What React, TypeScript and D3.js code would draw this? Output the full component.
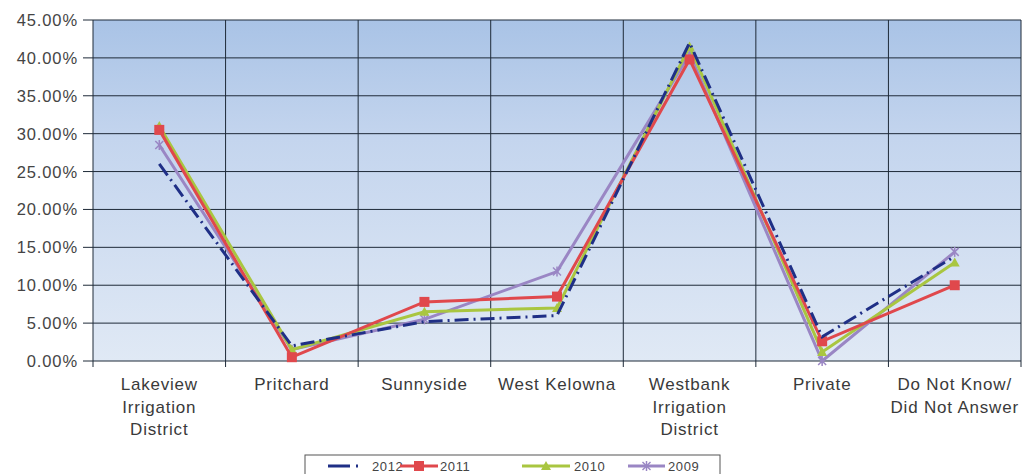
import React from "react";
import * as d3 from "d3";

const categories = [
  ["Lakeview", "Irrigation", "District"],
  ["Pritchard"],
  ["Sunnyside"],
  ["West Kelowna"],
  ["Westbank", "Irrigation", "District"],
  ["Private"],
  ["Do Not Know/", "Did Not Answer"],
];
const s2012 = [26.0, 2.0, 5.2, 6.0, 42.0, 3.2, 13.8];
const s2011 = [30.5, 0.5, 7.8, 8.5, 39.8, 2.6, 10.0];
const s2010 = [31.0, 1.5, 6.5, 7.0, 41.5, 1.2, 13.0];
const s2009 = [28.5, 1.5, 5.5, 11.8, 40.5, 0.0, 14.4];
const yTicks = [0, 5, 10, 15, 20, 25, 30, 35, 40, 45];
const seriesNames = ["2012", "2011", "2010", "2009"];

const W = 1023, H = 474;
const left = 93, right = 1021, top = 20, bottom = 361;

export default function App() {
  const x = d3.scaleBand<number>().domain(d3.range(categories.length)).range([left, right]);
  const y = d3.scaleLinear().domain([0, 45]).range([bottom, top]);
  const line = d3.line<number>().x((_, i) => x(i)! + x.bandwidth() / 2).y((d) => y(d));
  const font = "Arial, 'Liberation Sans', sans-serif";
  const series = [
    { name: "2012", data: s2012, color: "#1F2F86", dash: "14,5,2,5", marker: "none" },
    { name: "2011", data: s2011, color: "#E0484C", dash: "", marker: "square" },
    { name: "2010", data: s2010, color: "#A9C640", dash: "", marker: "tri" },
    { name: "2009", data: s2009, color: "#9A86C4", dash: "", marker: "star" },
  ];
  const drawOrder = [3, 2, 1, 0];
  const cx = (i: number) => x(i)! + x.bandwidth() / 2;
  const marker = (m: string, px: number, py: number, color: string, key: string) => {
    if (m === "square") return <rect key={key} x={px - 5} y={py - 5} width={10} height={10} fill={color} />;
    if (m === "tri") return <path key={key} d={`M${px},${py - 5}L${px + 5},${py + 4}L${px - 5},${py + 4}Z`} fill={color} />;
    if (m === "star")
      return (
        <g key={key} stroke={color} strokeWidth={1.5}>
          <line x1={px - 4} y1={py - 4} x2={px + 4} y2={py + 4} />
          <line x1={px - 4} y1={py + 4} x2={px + 4} y2={py - 4} />
          <line x1={px} y1={py - 5} x2={px} y2={py + 5} />
        </g>
      );
    return null;
  };
  const legendItems = [
    { x0: 328, x1: 362, tx: 372 },
    { x0: 400, x1: 438, tx: 440 },
    { x0: 522, x1: 570, tx: 574 },
    { x0: 628, x1: 665, tx: 668 },
  ];
  return (
    <svg width={W} height={H} style={{ position: "absolute", left: 0, top: 0, background: "#fff" }}>
      <defs>
        <linearGradient id="bg" x1="0" y1="0" x2="0" y2="1">
          <stop offset="0" stopColor="#A9C3E6" />
          <stop offset="0.35" stopColor="#C4D5EE" />
          <stop offset="1" stopColor="#E0E9F5" />
        </linearGradient>
      </defs>
      <rect x={left} y={top} width={right - left} height={bottom - top} fill="url(#bg)" />
      {yTicks.map((t) => (
        <g key={t}>
          <line x1={left} x2={right} y1={y(t)} y2={y(t)} stroke="#1E2A38" strokeWidth={1} />
          <line x1={83} x2={left} y1={y(t)} y2={y(t)} stroke="#1E2A38" strokeWidth={1} />
          <text x={78} y={y(t) + 6} textAnchor="end" fontFamily={font} fontSize={16.5} letterSpacing={0.9} fill="#444">
            {t.toFixed(2) + "%"}
          </text>
        </g>
      ))}
      {d3.range(categories.length + 1).map((i) => {
        const xx = i < categories.length ? x(i)! : right;
        return (
          <g key={i}>
            <line x1={xx} x2={xx} y1={top} y2={bottom + 6} stroke="#1E2A38" strokeWidth={1} />
          </g>
        );
      })}
      {categories.map((c, i) => (
        <text key={i} x={cx(i)} y={390} textAnchor="middle" fontFamily={font} fontSize={17} letterSpacing={0.8} fill="#3a3a3a">
          {c.map((l, j) => (
            <tspan key={j} x={cx(i)} dy={j === 0 ? 0 : 22.5}>
              {l}
            </tspan>
          ))}
        </text>
      ))}
      {drawOrder.map((k) => {
        const s = series[k];
        return (
          <g key={s.name}>
            <path d={line(s.data)!} fill="none" stroke={s.color} strokeWidth={3} strokeDasharray={s.dash} />
            {s.data.map((d, i) => marker(s.marker, cx(i), y(d), s.color, s.name + i))}
          </g>
        );
      })}
      <rect x={305} y={455} width={415} height={25} fill="#fff" stroke="#555" strokeWidth={1} />
      {series.map((s, k) => {
        const li = legendItems[k];
        const ly = 466;
        return (
          <g key={s.name}>
            <line x1={li.x0} x2={li.x1} y1={ly} y2={ly} stroke={s.color} strokeWidth={3} strokeDasharray={s.dash ? "22,6,2,6" : ""} />
            {marker(s.marker, (li.x0 + li.x1) / 2, ly, s.color, "lg" + k)}
            <text x={li.tx} y={ly + 5} fontFamily={font} fontSize={13} letterSpacing={0.6} fill="#444">
              {seriesNames[k]}
            </text>
          </g>
        );
      })}
    </svg>
  );
}
